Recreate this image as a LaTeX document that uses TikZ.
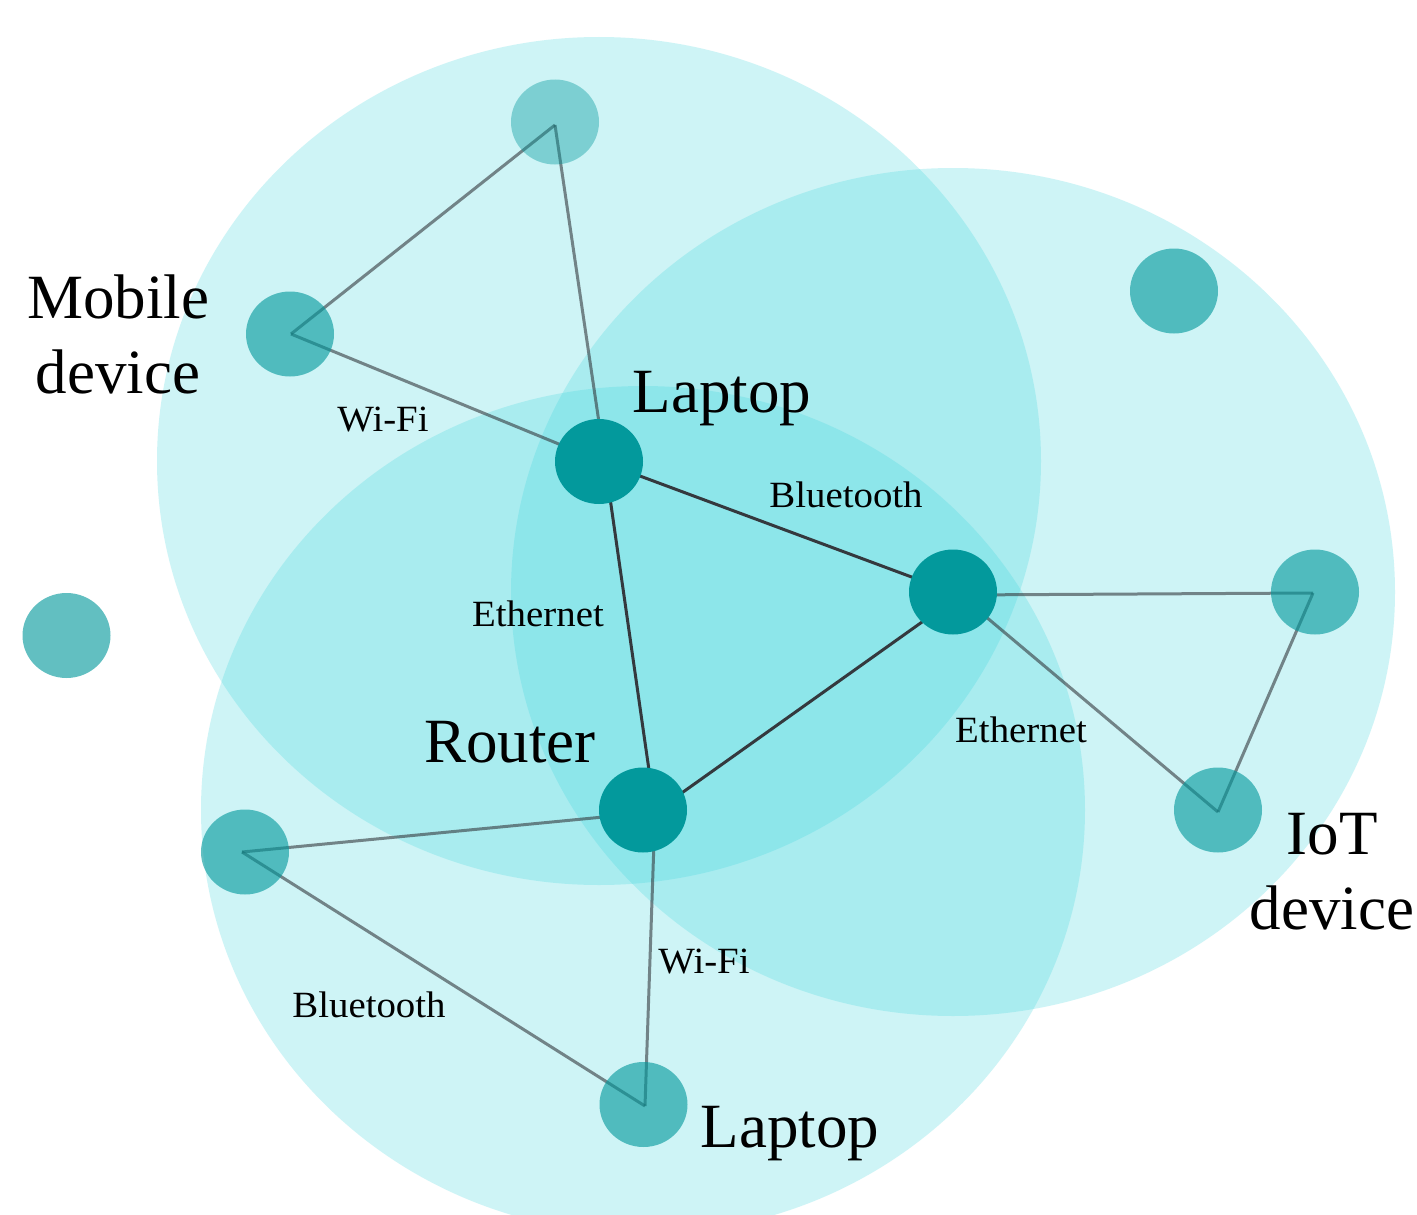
\documentclass[tikz,border=0pt]{standalone}
\usepackage{fontspec}
\setmainfont{Liberation Serif}
\newfontfamily\edgefont[FakeStretch=1.05]{Liberation Serif}
\usetikzlibrary{shapes.geometric}
\definecolor{zonecol}{RGB}{60,214,222}
\definecolor{devteal}{RGB}{3,153,156}
\definecolor{linkgray}{RGB}{52,57,62}

\begin{document}
\begin{tikzpicture}[x=1pt,y=-1pt,
  zonefill/.style={fill=zonecol, fill opacity=0.25},
  hub/.style={ellipse, minimum width=88pt, minimum height=85pt, inner sep=0pt, fill=devteal},
  device/.style={hub, fill opacity=0.62},
  faintdevice/.style={hub, fill opacity=0.4},
  wire/.style={draw=linkgray, line width=3pt},
  softwire/.style={wire, draw opacity=0.6},
  bigtext/.style={font=\fontsize{63}{75}\selectfont, inner sep=0pt, anchor=base, align=center},
  smalltext/.style={font=\edgefont\fontsize{37}{44}\selectfont, inner sep=0pt, anchor=base},
]
% canvas
\fill[white] (0,0) rectangle (1417,1215);
\useasboundingbox (0,0) rectangle (1417,1215);

% coverage zones
\fill[zonefill] (599,461) ellipse [x radius=442pt, y radius=424pt];
\fill[zonefill] (953,592) ellipse [x radius=442pt, y radius=424pt];
\fill[zonefill] (643,810) ellipse [x radius=442pt, y radius=424pt];

% link end points inside each device
\coordinate (ptop) at (555,125);
\coordinate (pmobile) at (291,334);
\coordinate (plaptop) at (605,463);
\coordinate (pswitch) at (960,595);
\coordinate (pright) at (1313,593);
\coordinate (piot) at (1218,812);
\coordinate (prouter) at (655,812);
\coordinate (pleft) at (242,852);
\coordinate (pbottom) at (645,1106);

% links
\draw[softwire] (ptop) -- (pmobile);
\draw[softwire] (ptop) -- (plaptop);
\draw[softwire] (pmobile) -- (plaptop);
\draw[wire] (plaptop) -- (pswitch);
\draw[wire] (plaptop) -- (prouter);
\draw[wire] (prouter) -- (pswitch);
\draw[softwire] (pswitch) -- (pright);
\draw[softwire] (pswitch) -- (piot);
\draw[softwire] (pright) -- (piot);
\draw[softwire] (prouter) -- (pleft);
\draw[softwire] (prouter) -- (pbottom);
\draw[softwire] (pleft) -- (pbottom);

% devices
\node[faintdevice] (top) at (555,122) {};
\node[device] (mobile) at (290,334) {};
\node[hub] (laptop) at (599,461.5) {};
\node[hub] (switch) at (953,592) {};
\node[device] (corner) at (1174,291) {};
\node[device] (right) at (1315,592) {};
\node[device] (iot) at (1218,810) {};
\node[hub] (router) at (643,810) {};
\node[device] (left) at (245,852) {};
\node[device] (bottom) at (643.5,1104.5) {};
\node[device] (lone) at (66.5,635.5) {};

% device names
\node[bigtext] (mobilelabel) at (118,393) {Mobile\\device};
\node[bigtext] (laptoplabel) at (722,412) {Laptop};
\node[bigtext] (routerlabel) at (510,762) {Router};
\node[bigtext] (iotlabel) at (1332,929) {IoT\\device};
\node[bigtext] (bottomlabel) at (790,1147) {Laptop};

% link names
\node[smalltext] (wifitop) at (383,431) {Wi-Fi};
\node[smalltext] (bttop) at (846,507) {Bluetooth};
\node[smalltext] (ethleft) at (538,626) {Ethernet};
\node[smalltext] (ethright) at (1021,742) {Ethernet};
\node[smalltext] (wifibottom) at (704,973) {Wi-Fi};
\node[smalltext] (btbottom) at (369,1017) {Bluetooth};
\end{tikzpicture}
\end{document}
